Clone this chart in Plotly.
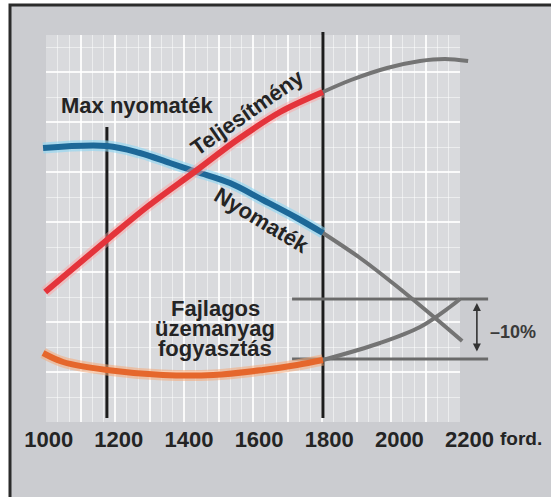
import plotly.graph_objects as go

W, H = 551, 497

# ---------------- data (x: engine speed, rpm; y: relative scale) ----------------
tick_rpm = [1000, 1200, 1400, 1600, 1800, 2000, 2200]
tick_text = ["1000", "1200", "1400", "1600", "1800", "2000", "2200"]

torque_rpm = [984, 1166, 1260, 1346, 1423, 1517, 1611, 1708, 1782]
torque_val = [70.5, 71, 69.25, 66.75, 64.5, 61.75, 57.5, 53, 49.25]
torque_ext_rpm = [1782, 1888, 1988, 2102, 2179]
torque_ext_val = [49.25, 43, 36.25, 28, 22.25]

power_rpm = [990, 1166, 1280, 1423, 1537, 1660, 1782]
power_val = [34.5, 47.5, 55.75, 65, 72.5, 79.5, 84.5]
power_ext_rpm = [1782, 1862, 1965, 2059, 2130, 2196]
power_ext_val = [84.5, 87.5, 90.5, 92.25, 92.75, 92.25]

fuel_rpm = [984, 1041, 1166, 1326, 1469, 1611, 1708, 1782]
fuel_val = [19.25, 17, 15, 13.75, 13.75, 15, 16.25, 17.5]
fuel_ext_rpm = [1782, 1945, 2059, 2144, 2173]
fuel_ext_val = [17.5, 21.75, 25.75, 30.75, 32.75]

marker_rpm = [1166, 1782]      # max torque speed, rated speed
marker_top = [75.75, 99.5]
marker_bottom = [3, 3]

bracket_levels = [32.75, 17.75]
bracket_rpm = [1694, 2253]
arrow_rpm = 2221
arrow_span = [31.75, 19.25]

# ---------------- helpers for layout (pixel -> paper) ----------------
def px_x(p):
    return p / W

def px_y(p):
    return 1 - p / H

SLOPE = 0.3507      # px per rpm
X_REF_PX, X_REF_RPM = 259.1, 1600

def rpm_at(px):
    return X_REF_RPM + (px - X_REF_PX) / SLOPE

def val_at(py):
    return (430 - py) / 4

TXT = "#242424"
GREY = "#747474"
FONT = "Liberation Sans, Arial, Helvetica, sans-serif"

fig = go.Figure()

# invisible trace so the background grid subplot (x / y) exists
fig.add_trace(go.Scatter(x=[None], y=[None], xaxis="x", yaxis="y",
                         showlegend=False, hoverinfo="skip"))

D = dict(xaxis="x2", yaxis="y2", showlegend=False, hoverinfo="skip")

# vertical reference lines
for r, t, b in zip(marker_rpm, marker_top, marker_bottom):
    fig.add_trace(go.Scatter(x=[r, r], y=[b, t], mode="lines",
                             line=dict(color="#1c1c1c", width=3), **D))

# bracket lines
for lv in bracket_levels:
    fig.add_trace(go.Scatter(x=bracket_rpm, y=[lv, lv], mode="lines",
                             line=dict(color="#6a6a6a", width=3), **D))

# grey continuations
for xs, ys in [(power_ext_rpm, power_ext_val), (torque_ext_rpm, torque_ext_val),
               (fuel_ext_rpm, fuel_ext_val)]:
    fig.add_trace(go.Scatter(x=xs, y=ys, mode="lines", line_shape="spline",
                             line=dict(color=GREY, width=4), **D))

# coloured curves with soft glow
curves = [
    (fuel_rpm, fuel_val, "#e5672c", "rgba(245,170,120,0.55)"),
    (torque_rpm, torque_val, "#1d6898", "rgba(140,215,245,0.6)"),
    (power_rpm, power_val, "#e4343b", "rgba(255,160,160,0.45)"),
]
for xs, ys, col, glow in curves:
    fig.add_trace(go.Scatter(x=xs, y=ys, mode="lines", line_shape="spline",
                             line=dict(color=glow, width=11), **D))
    fig.add_trace(go.Scatter(x=xs, y=ys, mode="lines", line_shape="spline",
                             line=dict(color=col, width=6), **D))

bold = dict(family=FONT, size=22, color=TXT, weight="bold")
A = dict(xref="x2", yref="y2", showarrow=False)

annotations = [
    dict(x=rpm_at(136.5), y=val_at(105), text="Max nyomaték", font=bold, **A),
    dict(x=rpm_at(247), y=val_at(112), text="Teljesítmény", textangle=-35,
         font=bold, **A),
    dict(x=rpm_at(262), y=val_at(220), text="Nyomaték", textangle=31, font=bold, **A),
    dict(x=rpm_at(215), y=val_at(308), text="Fajlagos", font=bold, **A),
    dict(x=rpm_at(215), y=val_at(328), text="üzemanyag", font=bold, **A),
    dict(x=rpm_at(215), y=val_at(348), text="fogyasztás", font=bold, **A),
    dict(x=rpm_at(513), y=val_at(332), text="–10%",
         font=dict(family=FONT, size=18, color="#3a3a3a", weight="bold"), **A),
    dict(x=rpm_at(521), y=px_y(438), xref="x2", yref="paper", text="ford.",
         xanchor="center", yanchor="middle", showarrow=False,
         font=dict(family=FONT, size=19, color=TXT, weight="bold")),
    dict(x=arrow_rpm, y=arrow_span[0], ax=arrow_rpm, ay=arrow_span[1],
         xref="x2", yref="y2", axref="x2", ayref="y2", text="", showarrow=True,
         arrowhead=2, arrowsize=1, arrowwidth=1.6, arrowside="end+start",
         arrowcolor="#333333"),
]

shapes = [
    dict(type="rect", xref="paper", yref="paper", x0=px_x(10), x1=1.1,
         y0=-0.1, y1=px_y(5), fillcolor="#cbccd0",
         line=dict(color="#2b2b2b", width=3), layer="below"),
    dict(type="rect", xref="x domain", yref="y domain", x0=0, x1=1, y0=0, y1=1,
         fillcolor="#d9dadd", line=dict(width=0), layer="below"),
]

fig.update_layout(
    width=W, height=H,
    margin=dict(l=0, r=0, t=0, b=0),
    paper_bgcolor="white",
    plot_bgcolor="rgba(0,0,0,0)",
    showlegend=False,
    # background grid
    xaxis=dict(domain=[px_x(46), px_x(460)], range=[0, 12], anchor="y",
               showgrid=True, gridcolor="rgba(255,255,255,0.85)", gridwidth=1.5,
               dtick=1, tick0=0, showticklabels=False, zeroline=False, ticks="",
               minor=dict(showgrid=True, dtick=1/3, gridcolor="rgba(255,255,255,0.5)",
                          gridwidth=1)),
    yaxis=dict(domain=[px_y(422), px_y(35)], range=[0, (422 - 35) / 25], anchor="x",
               showgrid=True, gridcolor="rgba(255,255,255,0.85)", gridwidth=1.5,
               dtick=2, tick0=0, showticklabels=False, zeroline=False, ticks="",
               minor=dict(showgrid=True, dtick=1, gridcolor="rgba(255,255,255,0.5)",
                          gridwidth=1)),
    # data axes
    xaxis2=dict(domain=[px_x(20), px_x(545)], range=[rpm_at(20), rpm_at(545)],
                tickvals=tick_rpm, ticktext=tick_text, ticks="",
                tickfont=dict(family=FONT, size=22, color=TXT, weight="bold"),
                showgrid=False, zeroline=False, showline=False,
                anchor="free", position=px_y(424)),
    yaxis2=dict(domain=[px_y(430), px_y(20)], range=[val_at(430), val_at(20)],
                anchor="x2", visible=False),
    annotations=annotations,
    shapes=shapes,
)

fig.write_html("out.html", config={"displayModeBar": False},
               post_script="document.body.style.margin='0px';")
